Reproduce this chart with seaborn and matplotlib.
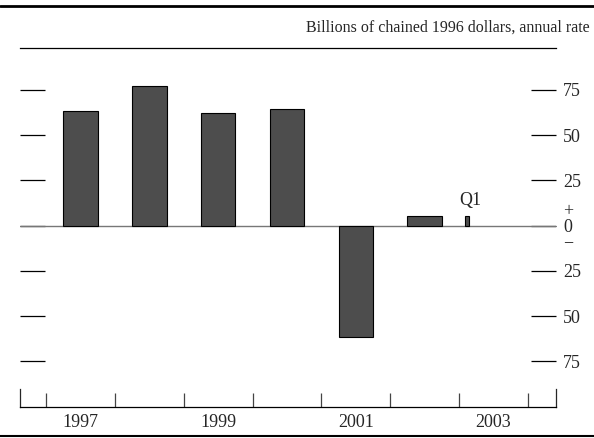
import matplotlib
matplotlib.use('Agg')
import matplotlib.pyplot as plt
from matplotlib.lines import Line2D
import seaborn as sns
import pandas as pd

# data (billions of chained 1996 dollars)
years = [1997, 1998, 1999, 2000, 2001, 2002]
values = [63.5, 77, 62.5, 64.5, -61.5, 5.5]
q1_value = [5.5]
q1_pos = [2003.12]
tick_vals = [-75, -50, -25, 0, 25, 50, 75]
tick_text = ['75', '50', '25', '+\n0\n\u2212', '25', '50', '75']
year_labels = ['1997', '1999', '2001', '2003']

sns.set_style('white')
plt.rcParams['font.family'] = ['Liberation Serif', 'DejaVu Serif']
plt.rcParams['font.size'] = 13

fig = plt.figure(figsize=(5.94, 4.38), dpi=100)
ax = fig.add_axes([20/594, 1 - 407/438, 536/594, (407 - 48)/438])

df = pd.DataFrame({'x': [y + 0.5 for y in years], 'v': values})
sns.barplot(data=df, x='x', y='v', native_scale=True, width=0.5,
            color='#4d4d4d', edgecolor='black', linewidth=0.8,
            saturation=1, ax=ax, zorder=3)
dq = pd.DataFrame({'x': q1_pos, 'v': q1_value})
sns.barplot(data=dq, x='x', y='v', native_scale=True, width=0.065,
            color='#4d4d4d', edgecolor='black', linewidth=0.8,
            saturation=1, ax=ax, zorder=3)
ax.text(q1_pos[0] + 0.05, q1_value[0] + 4, 'Q1', ha='center', va='bottom', fontsize=13)

ax.axhline(0, color='#777777', lw=1, zorder=2)

ax.set_xlim(1996.62, 2004.41)
ax.set_ylim(-100.2, 98.2)
ax.set_xlabel('')
ax.set_ylabel('')

# spines
for s in ['top', 'bottom']:
    ax.spines[s].set_visible(True)
    ax.spines[s].set_color('black')
    ax.spines[s].set_linewidth(0.9)
ax.spines['left'].set_bounds(-100.2, -90.5)
ax.spines['right'].set_bounds(-100.2, -90.5)
ax.spines['left'].set_linewidth(0.9)
ax.spines['right'].set_linewidth(0.9)

# y ticks on both sides
ax.set_yticks(tick_vals)
ax.set_yticklabels(tick_text, linespacing=0.9)
ax.tick_params(axis='y', which='major', left=True, right=True, direction='in',
               length=18, width=0.9, color='black', labelleft=False,
               labelright=True, pad=5, labelsize=13)

# x ticks: boundaries + labels at mid-year
ax.set_xticks(list(range(1997, 2005)))
ax.set_xticklabels([])
ax.set_xticks([int(y) + 0.5 for y in year_labels], minor=True)
ax.set_xticklabels(year_labels, minor=True)
ax.tick_params(axis='x', which='major', bottom=True, top=False, direction='in',
               length=10, width=0.9, color='#444444')
ax.tick_params(axis='x', which='minor', bottom=True, length=0, pad=5, labelsize=13)

# rules at top and bottom of figure
fig.add_artist(Line2D([0, 1], [1 - 6/438, 1 - 6/438], transform=fig.transFigure,
                      color='black', lw=2))
fig.add_artist(Line2D([0, 1], [1 - 436/438, 1 - 436/438], transform=fig.transFigure,
                      color='black', lw=1.5))
fig.text(590/594, 1 - 28/438, 'Billions of chained 1996 dollars, annual rate',
         ha='right', va='center', fontsize=11.5)

fig.savefig('out.png', dpi=100)
